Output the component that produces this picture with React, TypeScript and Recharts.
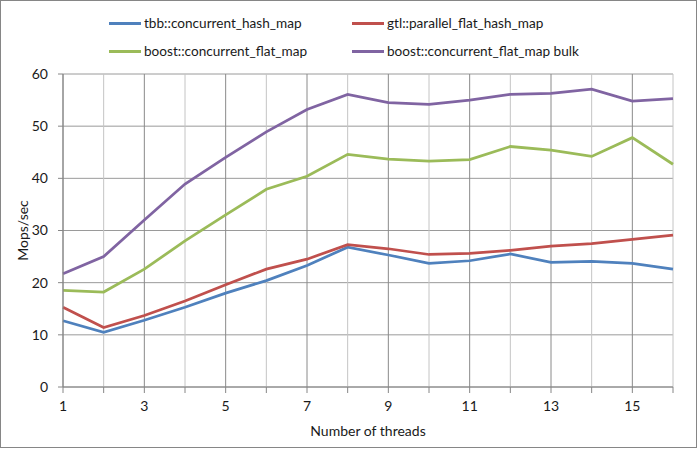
import React from 'react';
import { LineChart, Line, XAxis, YAxis, CartesianGrid, Label } from 'recharts';

const threads = [1, 2, 3, 4, 5, 6, 7, 8, 9, 10, 11, 12, 13, 14, 15, 16];
const tbbHashMap = [12.7, 10.5, 12.8, 15.3, 18.0, 20.4, 23.3, 26.8, 25.3, 23.7, 24.2, 25.5, 23.9, 24.1, 23.7, 22.6];
const gtlParallelFlat = [15.3, 11.4, 13.7, 16.5, 19.6, 22.6, 24.5, 27.3, 26.5, 25.4, 25.6, 26.2, 27.0, 27.5, 28.3, 29.1];
const boostFlat = [18.5, 18.2, 22.6, 28.0, 33.0, 37.9, 40.4, 44.6, 43.7, 43.3, 43.6, 46.1, 45.4, 44.2, 47.8, 42.7];
const boostFlatBulk = [21.7, 25.0, 32.0, 38.9, 44.0, 48.9, 53.2, 56.1, 54.5, 54.2, 55.0, 56.1, 56.3, 57.1, 54.8, 55.3];
const yTicks = [0, 10, 20, 30, 40, 50, 60];

const seriesNames = [
  'tbb::concurrent_hash_map',
  'gtl::parallel_flat_hash_map',
  'boost::concurrent_flat_map',
  'boost::concurrent_flat_map bulk',
];
const seriesKeys = ['tbb', 'gtl', 'boost', 'bulk'];
const seriesColors = ['#4F81BD', '#C0504D', '#9BBB59', '#8064A2'];

const data = threads.map((t, i) => ({
  t,
  tbb: tbbHashMap[i],
  gtl: gtlParallelFlat[i],
  boost: boostFlat[i],
  bulk: boostFlatBulk[i],
}));

const FONT = 'Lato, "Open Sans", sans-serif';
const TEXT = '#1a1a1a';
const AXIS_FS = 14;
const LEGEND_FS = 13.6;

const legendCols = [109, 352];
const legendRows = [23, 51];

export default function App() {
  return (
    <div
      style={{
        position: 'absolute',
        left: 0,
        top: 0,
        width: 698,
        height: 449,
        background: '#fff',
        fontFamily: FONT,
      }}
    >
      <div
        style={{
          position: 'absolute',
          left: 0,
          top: 0,
          width: 697,
          height: 448,
          boxSizing: 'border-box',
          border: '1px solid #868686',
        }}
      />
      <div style={{ position: 'absolute', left: 0, top: 0 }}>
        <LineChart
          width={698}
          height={449}
          data={data}
          margin={{ top: 74, right: 25, left: 0, bottom: 0 }}
        >
          <CartesianGrid
            stroke="#9a9a9a"
            horizontal={{ stroke: '#9a9a9a', strokeWidth: 1 }}
            vertical={(p: any) => (
              <line
                key={p.key}
                x1={p.x1}
                y1={p.y1}
                x2={p.x2}
                y2={p.y2}
                stroke={threads[p.index] % 2 === 1 ? '#8a8a8a' : '#c4c4c4'}
                strokeWidth={1}
              />
            )}
          />
          <XAxis
            dataKey="t"
            type="number"
            domain={[1, 16]}
            ticks={threads}
            interval={0}
            tickFormatter={(v: number) => (v % 2 === 1 ? String(v) : '')}
            height={62}
            tickSize={6}
            tickMargin={8}
            axisLine={{ stroke: '#868686' }}
            tickLine={{ stroke: '#868686' }}
            tick={{ fill: TEXT, fontSize: AXIS_FS, fontFamily: FONT }}
          >
            <Label
              content={(props: any) => {
                const vb = props.viewBox;
                return (
                  <text
                    x={vb.x + vb.width / 2}
                    y={430}
                    textAnchor="middle"
                    dominantBaseline="central"
                    fill={TEXT}
                    fontSize={AXIS_FS}
                    fontFamily={FONT}
                  >
                    Number of threads
                  </text>
                );
              }}
            />
          </XAxis>
          <YAxis
            type="number"
            domain={[0, 60]}
            ticks={yTicks}
            interval={0}
            width={63}
            tickSize={5}
            tickMargin={10}
            axisLine={{ stroke: '#868686' }}
            tickLine={{ stroke: '#868686' }}
            tick={{ fill: TEXT, fontSize: AXIS_FS, fontFamily: FONT }}
          >
            <Label
              content={(props: any) => {
                const vb = props.viewBox;
                const cy = vb.y + vb.height / 2;
                return (
                  <text
                    x={22}
                    y={cy}
                    transform={`rotate(-90 22 ${cy})`}
                    textAnchor="middle"
                    dominantBaseline="central"
                    fill={TEXT}
                    fontSize={AXIS_FS}
                    fontFamily={FONT}
                  >
                    Mops/sec
                  </text>
                );
              }}
            />
          </YAxis>
          {seriesKeys.map((k, i) => (
            <Line
              key={k}
              type="linear"
              dataKey={k}
              name={seriesNames[i]}
              stroke={seriesColors[i]}
              strokeWidth={2.75}
              dot={false}
              activeDot={false}
              isAnimationActive={false}
            />
          ))}
        </LineChart>
      </div>
      {seriesNames.map((name, i) => {
        const col = i % 2;
        const row = Math.floor(i / 2);
        return (
          <div
            key={name}
            style={{
              position: 'absolute',
              left: legendCols[col],
              top: legendRows[row] - 10,
              height: 20,
              display: 'flex',
              alignItems: 'center',
              whiteSpace: 'nowrap',
              fontSize: LEGEND_FS,
              color: TEXT,
            }}
          >
            <span
              style={{
                display: 'inline-block',
                width: 32,
                height: 3,
                background: seriesColors[i],
                marginRight: 3,
              }}
            />
            <span>{name}</span>
          </div>
        );
      })}
    </div>
  );
}
